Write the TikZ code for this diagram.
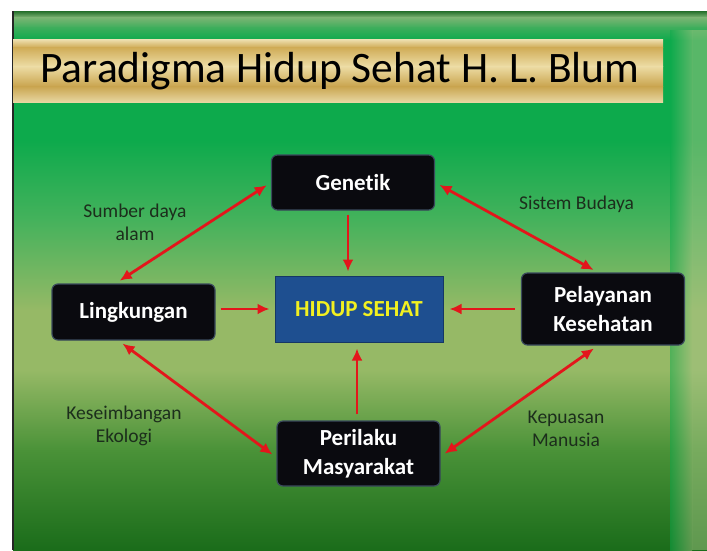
\documentclass[tikz,border=0pt]{standalone}
\usepackage{fontspec}
\setmainfont{Carlito}[Ligatures=CommonOff]
\usepackage{xcolor}
\usetikzlibrary{arrows.meta}
\definecolor{bgA}{HTML}{236E2A}
\definecolor{bgB}{HTML}{7DB574}
\definecolor{bgC}{HTML}{3FAE5C}
\definecolor{bgD}{HTML}{0DAA4C}
\definecolor{bgE}{HTML}{45B25C}
\definecolor{bgF}{HTML}{96B966}
\definecolor{bgG}{HTML}{4A9238}
\definecolor{bgH}{HTML}{1A6C1A}
\definecolor{bevel}{HTML}{A4C484}
\definecolor{emasA}{HTML}{EFE2B4}
\definecolor{emasB}{HTML}{CFAB55}
\definecolor{emasC}{HTML}{EDDDA6}
\definecolor{emasD}{HTML}{C9A44E}
\definecolor{emasE}{HTML}{E8D8A4}
\definecolor{hitam}{HTML}{0A0A0F}
\definecolor{garis}{HTML}{3A4A5C}
\definecolor{biru}{HTML}{1E4F90}
\definecolor{kuning}{HTML}{F2F020}
\definecolor{merah}{HTML}{E3161B}
\definecolor{teks}{HTML}{1C2E1C}
\tikzset{
  Kotak/.style={draw=garis, fill=hitam, rounded corners=6pt, line width=1.2pt,
    text=white, align=center, minimum width=163pt,
    font=\fontsize{23}{29}\selectfont\bfseries}, % kotak faktor
  Pusat/.style={draw=biru!70!black, fill=biru, line width=1pt, text=kuning,
    minimum width=168pt, minimum height=66pt,
    font=\fontsize{23}{27}\selectfont\bfseries}, % kotak tengah
  Ket/.style={text=teks, align=center, font=\fontsize{19.5}{23}\selectfont}, % keterangan
  Panah/.style={draw=merah, line width=2.8pt, shorten >=#1, shorten <=#1, ->}, % panah
  DPanah/.style={Panah=#1, <->} % panah dua arah
}

\begin{document}
\begin{tikzpicture}[x=1pt, y=-1pt,
>={Latex[length=12pt,width=11pt]} % ujung panah
]
\useasboundingbox (0,0) rectangle (707,550);

%Latar
\fill[white] (0,0) rectangle (707,550);
\foreach \ya/\yb/\ca/\cb in {11/17/bgA/bgB, 17/27/bgB/bgC, 27/40/bgC/bgD,
  40/140/bgD/bgD, 140/220/bgD/bgE, 220/310/bgE/bgF, 310/370/bgF/bgF,
  370/450/bgF/bgG, 450/550/bgG/bgH}
  \shade[top color=\ca, bottom color=\cb] (13,\ya) rectangle (707,{\yb+0.6});
\shade[left color=bgD, right color=bevel, opacity=.5] (670,30) rectangle (692,550);
\fill[bevel, opacity=.5] (692,30) rectangle (707,550);
\draw[line width=2pt, black!85] (13,11) -- (13,550);

%Judul
\foreach \ya/\yb/\ca/\cb in {39/47/emasA/emasB, 47/66/emasB/emasC,
  66/86/emasC/emasD, 86/102/emasD/emasE}
  \shade[top color=\ca, bottom color=\cb] (13,\ya) rectangle (663,{\yb+0.6});
\node[font=\fontsize{43.5}{50}\selectfont] (judul) at (340,71) {Paradigma Hidup Sehat H. L. Blum};

%Kotak
\node[Kotak, minimum height=55pt] (gen) at (353,182.5) {Genetik};
\node[Kotak, minimum height=56pt] (ling) at (133.5,312) {Lingkungan};
\node[Kotak, minimum height=72pt] (pel) at (603,309) {Pelayanan\\Kesehatan};
\node[Kotak, minimum height=65pt] (per) at (358.5,453.5) {Perilaku\\Masyarakat};
\node[Pusat] (hidup) at (359,309) {HIDUP SEHAT};

%Keterangan
\node[Ket] (sumber) at (135,222) {Sumber daya\\alam};
\node[Ket] (budaya) at (576.5,204) {Sistem Budaya};
\node[Ket] (ekologi) at (124,426) {Keseimbangan\\Ekologi};
\node[Ket] (kepuasan) at (566,429) {Kepuasan\\Manusia};

%Panah ke pusat
\draw[Panah=4pt] ([xshift=-5pt]gen.south) -- ([xshift=-5pt]gen.south |- hidup.north);
\draw[Panah=5pt] (ling.east |- hidup.west) -- (hidup.west);
\draw[Panah=6pt] (pel.west) -- (hidup.east);
\draw[Panah=6pt] ([xshift=-1.5pt]per.north) -- ([xshift=-1.5pt]per.north |- hidup.south);

%Panah dua arah
\draw[DPanah=5pt] (gen.west) -- ([xshift=-18pt]ling.north);
\draw[DPanah=5pt] (gen.east) -- ([xshift=-5pt]pel.north);
\draw[DPanah=5pt] ([xshift=-15pt]ling.south) -- ([yshift=-4pt]per.west);
\draw[DPanah=5pt] ([xshift=-5pt]pel.south) -- ([yshift=-3pt]per.east);

\end{tikzpicture}
\end{document}
